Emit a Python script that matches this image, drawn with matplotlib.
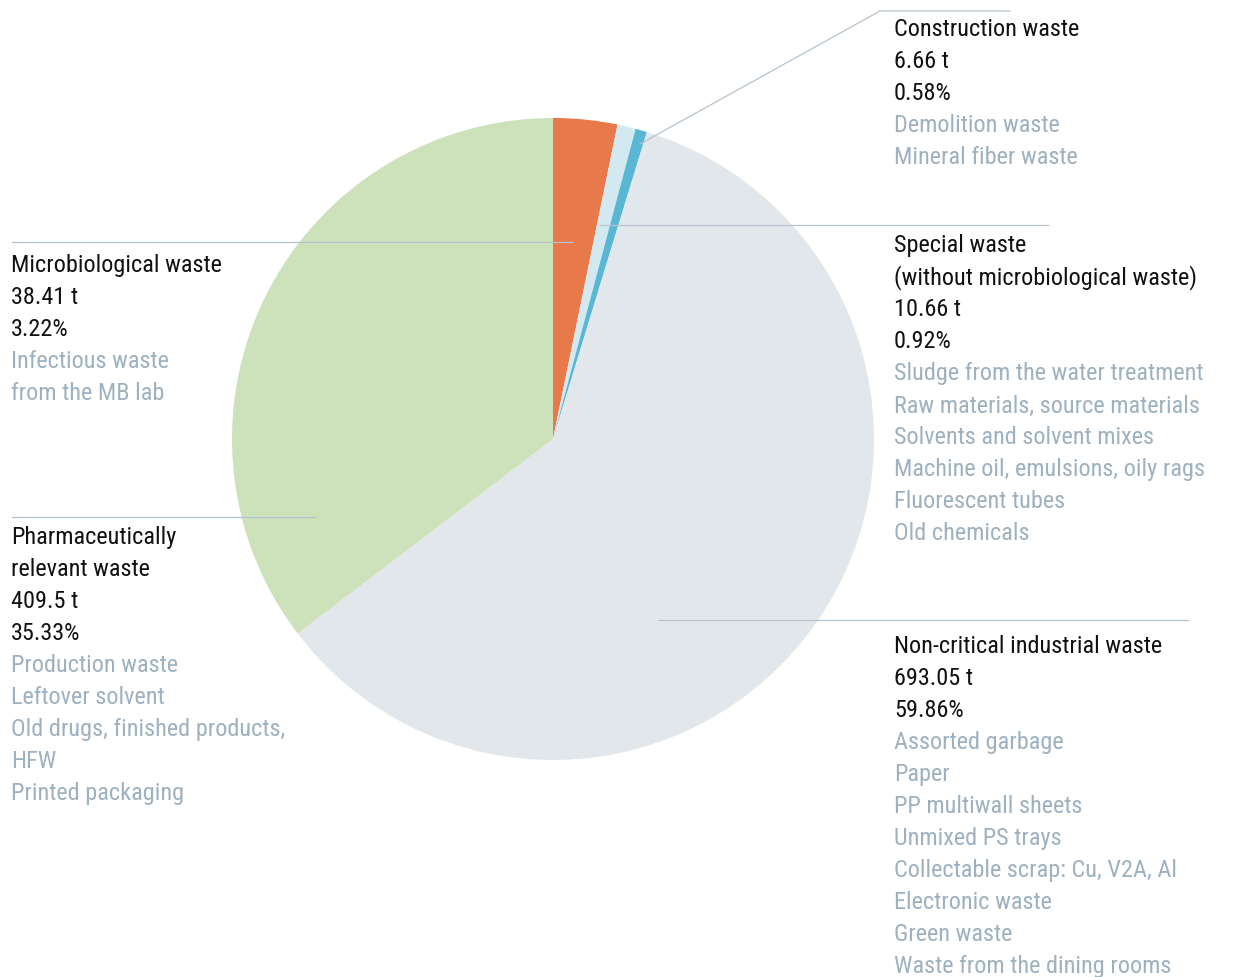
"""Waste breakdown pie chart"""
import matplotlib
matplotlib.use('Agg')
import matplotlib.pyplot as plt
from matplotlib import font_manager

# a condensed face is closest to the original; fall back to Roboto
avail = set(f.name for f in font_manager.fontManager.ttflist)
condensed = [f for f in ['Roboto Condensed', 'Liberation Sans Narrow'] if f in avail]
plt.rcParams['font.family'] = condensed + ['Roboto', 'DejaVu Sans']
fsize = 17.5 if condensed else 15.3

# data, clockwise from 12 o'clock
names = ['Microbiological waste',
         'Special waste\n(without microbiological waste)',
         'Construction waste',
         'Non-critical industrial waste',
         'Pharmaceutically\nrelevant waste']
tonnes = ['38.41 t', '10.66 t', '6.66 t', '693.05 t', '409.5 t']
shares = [3.22, 0.92, 0.58, 59.86, 35.33]
items = [
    ['Infectious waste', 'from the MB lab'],
    ['Sludge from the water treatment', 'Raw materials, source materials',
     'Solvents and solvent mixes', 'Machine oil, emulsions, oily rags',
     'Fluorescent tubes', 'Old chemicals'],
    ['Demolition waste', 'Mineral fiber waste'],
    ['Assorted garbage', 'Paper', 'PP multiwall sheets', 'Unmixed PS trays',
     'Collectable scrap: Cu, V2A, Al', 'Electronic waste', 'Green waste',
     'Waste from the dining rooms'],
    ['Production waste', 'Leftover solvent',
     'Old drugs, finished products,', 'HFW', 'Printed packaging'],
]
colors = ['#E8794A', '#D3E9F1', '#5AB7D3', '#E2E7EC', '#CDE2BB']

# layout in pixels (y from top)
W, H = 1235, 978
text_pos = [(11, 266), (894, 246), (894, 30), (894, 647), (11, 538)]
leaders = [
    [(12, 243), (572, 243)],
    [(600, 226), (1048, 226)],
    [(640, 145), (880, 12), (1010, 12)],
    [(658, 621), (1188, 621)],
    [(12, 518), (315, 518)],
]
step = 32

fig = plt.figure(figsize=(W / 100, H / 100), dpi=100)
ax = fig.add_axes([0, 0, 1, 1])

ax.pie(shares, colors=colors, startangle=90, counterclock=False,
       center=(553, H - 440), radius=321, frame=True,
       wedgeprops=dict(linewidth=0))
ax.set_xlim(0, W)
ax.set_ylim(0, H)
ax.set_aspect('equal')
ax.axis('off')

for pts in leaders:
    xs = [p[0] for p in pts]
    ys = [H - p[1] for p in pts]
    ax.plot(xs, ys, color='#B4C3CE', lw=0.9, zorder=3)

for i in range(len(names)):
    x, y = text_pos[i]
    lines = names[i].split('\n') + [tonnes[i], '%.2f%%' % shares[i]]
    n_dark = len(lines)
    lines += items[i]
    for j, line in enumerate(lines):
        c = '#111111' if j < n_dark else '#9DB1C0'
        ax.text(x, H - (y + j * step), line, fontsize=fsize, color=c,
                ha='left', va='center')

fig.savefig('out.png', dpi=100)
